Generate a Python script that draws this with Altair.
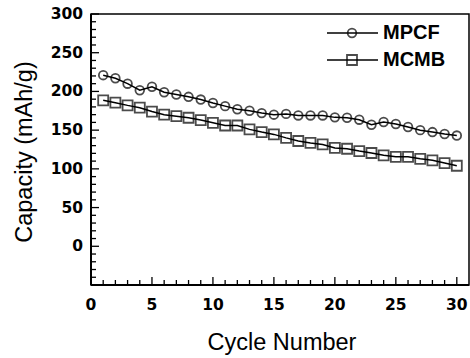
import altair as alt
import pandas as pd

cycles = list(range(1, 31))
mpcf = [221, 217, 210, 201.5, 206, 199, 196, 193, 189.5, 185,
        181, 177, 175, 172, 170, 171, 169, 169, 169, 166.5,
        166, 163.5, 157, 160.5, 158, 154, 150, 147.5, 145, 143]
mcmb = [188.5, 185.5, 182, 179, 174, 170, 168, 166, 163, 159.5,
        156, 156, 151, 147.5, 144.5, 140, 136, 133.5, 131.5, 127,
        126, 123, 120.5, 117.5, 115.5, 115.5, 113, 111, 107.5, 104]
series_names = ["MPCF", "MCMB"]
x_tick_labels = [0, 5, 10, 15, 20, 25, 30]
y_tick_labels = [0, 50, 100, 150, 200, 250, 300]
x_minor = [v for v in range(0, 31) if v % 5 != 0]
x_major = [v for v in range(0, 31) if v % 5 == 0]
y_minor = [v for v in range(-50, 301, 10) if v % 50 != 0]
y_major = [v for v in range(-50, 301, 10) if v % 50 == 0]
x_title = "Cycle Number"
y_title = "Capacity (mAh/g)"

rows = []
for c, a, b in zip(cycles, mpcf, mcmb):
    rows.append({"cycle": c, "cap": a, "series": "MPCF"})
    rows.append({"cycle": c, "cap": b, "series": "MCMB"})
df = pd.DataFrame(rows)

W, H = 378, 271
XD = [0, 31]
YD = [-50, 300]
XPX = (XD[1] - XD[0]) / W
YPX = (YD[1] - YD[0]) / H
FONT = "Liberation Sans"
TICKFONT = "DejaVu Sans"

xs = alt.Scale(domain=XD, nice=False, zero=False)
ys = alt.Scale(domain=YD, nice=False, zero=False)

# inner tick marks
xtick_df = pd.DataFrame({"tv": x_minor + x_major,
                         "tlen": [5] * len(x_minor) + [8] * len(x_major)})
ytick_df = pd.DataFrame({"tw": y_minor + y_major,
                         "tlen": [5] * len(y_minor) + [8] * len(y_major)})
xt_layer = alt.Chart(xtick_df).transform_calculate(
    lo=str(YD[0]), hi=f"{YD[0]} + datum.tlen * {YPX}"
).mark_rule(color="black", strokeWidth=1.3).encode(
    x=alt.X("tv:Q", scale=xs, axis=None),
    y=alt.Y("lo:Q", scale=ys, axis=None), y2="hi:Q")
yt_layer = alt.Chart(ytick_df).transform_calculate(
    lo=str(XD[0]), hi=f"{XD[0]} + datum.tlen * {XPX}"
).mark_rule(color="black", strokeWidth=1.3).encode(
    y=alt.Y("tw:Q", scale=ys, axis=None),
    x=alt.X("lo:Q", scale=xs, axis=None), x2="hi:Q")

# bottom and left frame lines (thicker)
frame_b = alt.Chart(pd.DataFrame({"a": [XD[0]], "b": [XD[1]], "c": [YD[0]]})).mark_rule(
    color="black", strokeWidth=2).encode(
    x=alt.X("a:Q", scale=xs, axis=None), x2="b:Q", y=alt.Y("c:Q", scale=ys, axis=None))
frame_l = alt.Chart(pd.DataFrame({"a": [YD[0]], "b": [YD[1]], "c": [XD[0]]})).mark_rule(
    color="black", strokeWidth=2).encode(
    y=alt.Y("a:Q", scale=ys, axis=None), y2="b:Q", x=alt.X("c:Q", scale=xs, axis=None))

# tick labels as text drawn through the scales
xlab = alt.Chart(pd.DataFrame({"lv": x_tick_labels})).transform_calculate(
    ly=f"{YD[0]} - 20 * {YPX}", txt="toString(datum.lv)"
).mark_text(font=TICKFONT, fontWeight="bold", fontSize=15.5, color="black",
            align="center", baseline="middle").encode(
    x=alt.X("lv:Q", scale=xs, axis=None), y=alt.Y("ly:Q", scale=ys, axis=None), text="txt:N")
ylab = alt.Chart(pd.DataFrame({"lw": y_tick_labels})).transform_calculate(
    lx=f"{XD[0]} - 8 * {XPX}", txt="toString(datum.lw)"
).mark_text(font=TICKFONT, fontWeight="bold", fontSize=15.5, color="black",
            align="right", baseline="middle").encode(
    y=alt.Y("lw:Q", scale=ys, axis=None), x=alt.X("lx:Q", scale=xs, axis=None), text="txt:N")

# axis titles
xtitle = alt.Chart(pd.DataFrame({"t": [x_title]})).mark_text(
    font=FONT, fontSize=23.5, color="black", align="center", baseline="alphabetic").encode(
    x=alt.value(W / 2 + 2), y=alt.value(H + 65), text="t:N")
ytitle = alt.Chart(pd.DataFrame({"t": [y_title]})).mark_text(
    font=FONT, fontSize=23.5, color="black", align="center", baseline="middle", angle=270).encode(
    x=alt.value(-66), y=alt.value(138), text="t:N")

lines = alt.Chart(df).mark_line(color="black", strokeWidth=1.5).encode(
    x=alt.X("cycle:Q", scale=xs, axis=None),
    y=alt.Y("cap:Q", scale=ys, axis=None), detail="series:N")
points = alt.Chart(df).mark_point(color="black", filled=False, strokeWidth=1.8).encode(
    x=alt.X("cycle:Q", scale=xs, axis=None),
    y=alt.Y("cap:Q", scale=ys, axis=None),
    shape=alt.Shape("series:N", scale=alt.Scale(domain=series_names, range=["circle", "square"]), legend=None),
    size=alt.Size("series:N", scale=alt.Scale(domain=series_names, range=[75, 100]), legend=None))

# manual legend
leg_rows = [33, 60]
legend_layers = []
for name, yy, shp, sz in zip(series_names, leg_rows, ["circle", "square"], [75, 100]):
    ld = pd.DataFrame({"name": [name]})
    legend_layers.append(alt.Chart(ld).mark_rule(color="black", strokeWidth=1.5).encode(
        x=alt.value(236), x2=alt.value(287), y=alt.value(yy - 14)))
    legend_layers.append(alt.Chart(ld).mark_point(color="black", filled=False, strokeWidth=1.8,
                                                  shape=shp, size=sz).encode(
        x=alt.value(261), y=alt.value(yy - 14)))
    legend_layers.append(alt.Chart(ld).mark_text(align="left", baseline="middle", font=FONT,
                                                 fontSize=20, fontWeight="bold", color="black").encode(
        x=alt.value(292), y=alt.value(yy - 14), text="name:N"))

chart = alt.layer(
    lines, xt_layer, yt_layer, frame_b, frame_l, xlab, ylab, xtitle, ytitle, points,
    *legend_layers
).properties(
    width=W, height=H,
    autosize=alt.AutoSizeParams(type="none"),
    padding={"left": 91, "top": 14, "right": 1, "bottom": 73},
    background="white",
).configure_view(stroke="black", strokeWidth=1.5)

chart.save("out.html", embed_options={"renderer": "svg", "actions": False})
